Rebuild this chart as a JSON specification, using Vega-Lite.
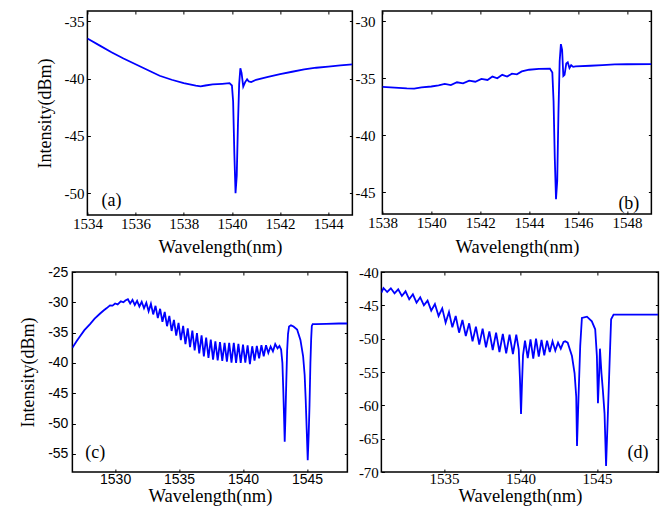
{
  "$schema": "https://vega.github.io/schema/vega-lite/v6.json",
  "padding": {"left": 18, "top": 9, "right": 0, "bottom": 0},
  "background": "white",
  "config": {
    "locale": {"number": {"decimal": ".", "thousands": "", "grouping": [3], "currency": ["", ""], "minus": "-"}},
    "view": {"stroke": "#000", "strokeWidth": 1.5},
    "axis": {"grid": false, "domain": false, "ticks": true, "tickColor": "#000", "tickSize": -3, "tickWidth": 1,
      "labelColor": "#000", "titleColor": "#000", "labelFont": "Liberation Serif", "labelFontSize": 15,
      "titleFont": "Liberation Serif", "titleFontSize": 18.5, "titleFontWeight": "normal", "labelFlush": false, "labelOverlap": false},
    "text": {"font": "Liberation Serif", "fontSize": 18, "color": "#000"}
  },
  "datasets": {
    "a": [
      {"wl":1534.0,"dbm":-36.5},{"wl":1534.5,"dbm":-37.1},{"wl":1535.0,"dbm":-37.7},{"wl":1535.5,"dbm":-38.25},{"wl":1536.0,"dbm":-38.75},
      {"wl":1536.5,"dbm":-39.25},{"wl":1537.0,"dbm":-39.75},{"wl":1537.5,"dbm":-40.1},{"wl":1538.0,"dbm":-40.4},{"wl":1538.5,"dbm":-40.62},
      {"wl":1538.7,"dbm":-40.68},{"wl":1538.9,"dbm":-40.6},{"wl":1539.2,"dbm":-40.5},{"wl":1539.6,"dbm":-40.45},{"wl":1539.9,"dbm":-40.4},
      {"wl":1540.0,"dbm":-40.6},{"wl":1540.05,"dbm":-42.0},{"wl":1540.1,"dbm":-46.5},{"wl":1540.15,"dbm":-50.0},{"wl":1540.2,"dbm":-48.5},
      {"wl":1540.25,"dbm":-44.0},{"wl":1540.3,"dbm":-40.5},{"wl":1540.35,"dbm":-39.1},{"wl":1540.4,"dbm":-39.5},{"wl":1540.47,"dbm":-40.7},
      {"wl":1540.55,"dbm":-40.3},{"wl":1540.63,"dbm":-40.05},{"wl":1540.7,"dbm":-40.25},{"wl":1540.8,"dbm":-40.3},{"wl":1541.0,"dbm":-40.1},
      {"wl":1541.5,"dbm":-39.85},{"wl":1542.0,"dbm":-39.6},{"wl":1542.5,"dbm":-39.4},{"wl":1543.0,"dbm":-39.2},{"wl":1543.5,"dbm":-39.05},
      {"wl":1544.0,"dbm":-38.95},{"wl":1544.5,"dbm":-38.85},{"wl":1545.0,"dbm":-38.75}
    ],
    "b": [
      {"wl":1538.0,"dbm":-35.75},{"wl":1538.5,"dbm":-35.82},{"wl":1539.0,"dbm":-35.88},{"wl":1539.3,"dbm":-35.9},{"wl":1539.6,"dbm":-35.8},
      {"wl":1540.0,"dbm":-35.72},{"wl":1540.3,"dbm":-35.62},{"wl":1540.55,"dbm":-35.5},{"wl":1540.8,"dbm":-35.6},{"wl":1541.05,"dbm":-35.35},
      {"wl":1541.3,"dbm":-35.45},{"wl":1541.55,"dbm":-35.2},{"wl":1541.8,"dbm":-35.3},{"wl":1542.05,"dbm":-35.05},{"wl":1542.3,"dbm":-35.15},
      {"wl":1542.5,"dbm":-34.85},{"wl":1542.7,"dbm":-35.0},{"wl":1542.9,"dbm":-34.7},{"wl":1543.1,"dbm":-34.85},{"wl":1543.3,"dbm":-34.6},
      {"wl":1543.5,"dbm":-34.65},{"wl":1543.7,"dbm":-34.4},{"wl":1544.0,"dbm":-34.25},{"wl":1544.4,"dbm":-34.18},{"wl":1544.85,"dbm":-34.15},
      {"wl":1544.95,"dbm":-34.5},{"wl":1545.0,"dbm":-37.0},{"wl":1545.05,"dbm":-42.0},{"wl":1545.1,"dbm":-45.6},{"wl":1545.15,"dbm":-44.0},
      {"wl":1545.2,"dbm":-38.0},{"wl":1545.25,"dbm":-33.5},{"wl":1545.3,"dbm":-32.0},{"wl":1545.35,"dbm":-32.5},{"wl":1545.4,"dbm":-34.8},
      {"wl":1545.45,"dbm":-34.7},{"wl":1545.52,"dbm":-33.7},{"wl":1545.58,"dbm":-33.6},{"wl":1545.65,"dbm":-34.1},{"wl":1545.72,"dbm":-33.85},
      {"wl":1545.8,"dbm":-34.0},{"wl":1545.9,"dbm":-33.95},{"wl":1546.5,"dbm":-33.9},{"wl":1547.0,"dbm":-33.85},{"wl":1547.5,"dbm":-33.78},
      {"wl":1548.0,"dbm":-33.77},{"wl":1549.0,"dbm":-33.75}
    ],
    "c": [
      {"wl":1526.66,"dbm":-37.5},{"wl":1527.0,"dbm":-36.4},{"wl":1527.26,"dbm":-35.6},{"wl":1527.6,"dbm":-34.6},{"wl":1528.04,"dbm":-33.6},
      {"wl":1528.4,"dbm":-32.7},{"wl":1528.83,"dbm":-31.85},{"wl":1529.1,"dbm":-31.35},{"wl":1529.35,"dbm":-30.95},{"wl":1529.6,"dbm":-30.5},
      {"wl":1529.8,"dbm":-30.55},{"wl":1530.0,"dbm":-30.2},{"wl":1530.2,"dbm":-30.35},{"wl":1530.45,"dbm":-29.85},{"wl":1530.65,"dbm":-30.0},
      {"wl":1530.8,"dbm":-29.7},
      {"wl":1531.0,"dbm":-29.5},{"wl":1531.18,"dbm":-30.2},{"wl":1531.36,"dbm":-29.6},{"wl":1531.54,"dbm":-30.43},{"wl":1531.72,"dbm":-29.76},
      {"wl":1531.9,"dbm":-30.69},{"wl":1532.08,"dbm":-29.92},{"wl":1532.26,"dbm":-30.98},{"wl":1532.44,"dbm":-30.09},{"wl":1532.62,"dbm":-31.49},
      {"wl":1532.8,"dbm":-30.26},{"wl":1532.98,"dbm":-32.0},{"wl":1533.16,"dbm":-30.58},{"wl":1533.34,"dbm":-32.61},{"wl":1533.52,"dbm":-31.07},
      {"wl":1533.7,"dbm":-33.21},{"wl":1533.88,"dbm":-31.6},{"wl":1534.06,"dbm":-33.94},{"wl":1534.24,"dbm":-32.24},{"wl":1534.42,"dbm":-34.73},
      {"wl":1534.6,"dbm":-32.9},{"wl":1534.78,"dbm":-35.48},{"wl":1534.96,"dbm":-33.39},{"wl":1535.14,"dbm":-36.24},{"wl":1535.32,"dbm":-33.88},
      {"wl":1535.5,"dbm":-36.89},{"wl":1535.68,"dbm":-34.29},{"wl":1535.86,"dbm":-37.4},{"wl":1536.04,"dbm":-34.69},{"wl":1536.22,"dbm":-37.92},
      {"wl":1536.4,"dbm":-35.07},{"wl":1536.58,"dbm":-38.42},{"wl":1536.76,"dbm":-35.44},{"wl":1536.94,"dbm":-38.92},{"wl":1537.12,"dbm":-35.81},
      {"wl":1537.3,"dbm":-39.19},{"wl":1537.48,"dbm":-36.17},{"wl":1537.66,"dbm":-39.46},{"wl":1537.84,"dbm":-36.46},{"wl":1538.02,"dbm":-39.58},
      {"wl":1538.2,"dbm":-36.58},{"wl":1538.38,"dbm":-39.67},{"wl":1538.56,"dbm":-36.69},{"wl":1538.74,"dbm":-39.8},{"wl":1538.92,"dbm":-36.7},
      {"wl":1539.1,"dbm":-39.94},{"wl":1539.28,"dbm":-36.7},{"wl":1539.46,"dbm":-40.0},{"wl":1539.64,"dbm":-36.84},{"wl":1539.82,"dbm":-40.0},
      {"wl":1540.0,"dbm":-37.0},{"wl":1540.18,"dbm":-39.95},{"wl":1540.36,"dbm":-37.12},{"wl":1540.54,"dbm":-40.2},{"wl":1540.72,"dbm":-37.25},
      {"wl":1540.9,"dbm":-39.64},{"wl":1541.08,"dbm":-37.21},{"wl":1541.26,"dbm":-39.26},{"wl":1541.44,"dbm":-37.08},{"wl":1541.62,"dbm":-38.9},
      {"wl":1541.8,"dbm":-37.09},{"wl":1541.98,"dbm":-38.35},{"wl":1542.16,"dbm":-37.3},{"wl":1542.34,"dbm":-38.1},{"wl":1542.52,"dbm":-36.9},
      {"wl":1542.7,"dbm":-37.6},
      {"wl":1542.85,"dbm":-37.2},{"wl":1542.98,"dbm":-37.8},{"wl":1543.08,"dbm":-40.0},{"wl":1543.15,"dbm":-44.5},{"wl":1543.21,"dbm":-49.0},
      {"wl":1543.26,"dbm":-53.0},{"wl":1543.31,"dbm":-49.5},{"wl":1543.38,"dbm":-43.5},{"wl":1543.45,"dbm":-38.0},{"wl":1543.52,"dbm":-35.2},
      {"wl":1543.6,"dbm":-34.0},{"wl":1543.75,"dbm":-33.8},{"wl":1543.95,"dbm":-34.0},{"wl":1544.23,"dbm":-34.5},{"wl":1544.49,"dbm":-36.2},
      {"wl":1544.7,"dbm":-38.9},{"wl":1544.82,"dbm":-42.0},{"wl":1544.9,"dbm":-46.0},{"wl":1544.98,"dbm":-51.0},{"wl":1545.06,"dbm":-56.05},
      {"wl":1545.14,"dbm":-51.5},{"wl":1545.2,"dbm":-47.0},{"wl":1545.27,"dbm":-40.0},{"wl":1545.33,"dbm":-36.0},{"wl":1545.38,"dbm":-33.9},
      {"wl":1545.45,"dbm":-33.6},{"wl":1545.7,"dbm":-33.6},{"wl":1546.5,"dbm":-33.55},{"wl":1547.5,"dbm":-33.5},{"wl":1548.16,"dbm":-33.5}
    ],
    "d": [
      {"wl":1530.91,"dbm":-43.1},{"wl":1531.05,"dbm":-42.4},{"wl":1531.29,"dbm":-43.0},{"wl":1531.53,"dbm":-42.45},{"wl":1531.77,"dbm":-43.2},
      {"wl":1532.01,"dbm":-42.6},{"wl":1532.25,"dbm":-43.6},{"wl":1532.49,"dbm":-42.9},{"wl":1532.73,"dbm":-44.1},{"wl":1532.97,"dbm":-43.35},
      {"wl":1533.21,"dbm":-44.6},{"wl":1533.45,"dbm":-43.8},{"wl":1533.69,"dbm":-45.0},{"wl":1533.93,"dbm":-44.3},{"wl":1534.17,"dbm":-45.8},
      {"wl":1534.41,"dbm":-44.8},{"wl":1534.65,"dbm":-46.6},{"wl":1534.89,"dbm":-45.45},{"wl":1535.11,"dbm":-47.6},{"wl":1535.33,"dbm":-46.0},
      {"wl":1535.55,"dbm":-48.3},{"wl":1535.77,"dbm":-46.6},{"wl":1535.99,"dbm":-49.1},{"wl":1536.21,"dbm":-47.2},{"wl":1536.43,"dbm":-49.6},
      {"wl":1536.65,"dbm":-47.7},{"wl":1536.87,"dbm":-50.4},{"wl":1537.09,"dbm":-48.2},{"wl":1537.31,"dbm":-50.9},{"wl":1537.53,"dbm":-48.5},
      {"wl":1537.75,"dbm":-51.3},{"wl":1537.97,"dbm":-48.9},{"wl":1538.19,"dbm":-51.7},{"wl":1538.41,"dbm":-49.1},{"wl":1538.63,"dbm":-52.0},
      {"wl":1538.85,"dbm":-49.3},{"wl":1539.07,"dbm":-52.2},{"wl":1539.29,"dbm":-49.4},{"wl":1539.51,"dbm":-52.3},{"wl":1539.73,"dbm":-49.4},
      {"wl":1539.89,"dbm":-51.6},{"wl":1539.97,"dbm":-56.0},{"wl":1540.04,"dbm":-61.3},{"wl":1540.1,"dbm":-57.0},{"wl":1540.17,"dbm":-52.5},
      {"wl":1540.3,"dbm":-50.3},{"wl":1540.48,"dbm":-52.9},{"wl":1540.66,"dbm":-50.1},{"wl":1540.84,"dbm":-53.0},{"wl":1541.02,"dbm":-50.0},
      {"wl":1541.2,"dbm":-52.7},{"wl":1541.38,"dbm":-50.2},{"wl":1541.56,"dbm":-52.5},{"wl":1541.74,"dbm":-50.3},{"wl":1541.92,"dbm":-52.0},
      {"wl":1542.1,"dbm":-50.4},{"wl":1542.28,"dbm":-51.8},{"wl":1542.46,"dbm":-50.6},{"wl":1542.64,"dbm":-51.5},{"wl":1542.82,"dbm":-50.5},
      {"wl":1542.93,"dbm":-50.4},{"wl":1543.09,"dbm":-50.6},{"wl":1543.37,"dbm":-52.6},{"wl":1543.54,"dbm":-55.15},{"wl":1543.65,"dbm":-58.7},
      {"wl":1543.7,"dbm":-66.1},{"wl":1543.8,"dbm":-58.7},{"wl":1543.91,"dbm":-51.1},{"wl":1544.02,"dbm":-46.9},{"wl":1544.35,"dbm":-46.7},
      {"wl":1544.67,"dbm":-47.4},{"wl":1544.89,"dbm":-48.6},{"wl":1545.0,"dbm":-52.6},{"wl":1545.07,"dbm":-59.7},{"wl":1545.15,"dbm":-55.2},
      {"wl":1545.2,"dbm":-51.5},{"wl":1545.3,"dbm":-55.2},{"wl":1545.39,"dbm":-57.7},{"wl":1545.5,"dbm":-61.2},{"wl":1545.6,"dbm":-69.1},
      {"wl":1545.72,"dbm":-61.2},{"wl":1545.83,"dbm":-53.6},{"wl":1545.93,"dbm":-47.1},{"wl":1546.09,"dbm":-46.4},{"wl":1547.28,"dbm":-46.4},
      {"wl":1549.0,"dbm":-46.4}
    ]
  },
  "vconcat": [
    {
      "hconcat": [
        {
          "width": 265, "height": 204,
          "layer": [
            {"data": {"name": "a"}, "mark": {"type": "line", "color": "#0000FF", "strokeWidth": 1.8, "clip": true},
              "encoding": {
                "x": {"field": "wl", "type": "quantitative", "scale": {"domain": [1534, 1545], "nice": false, "zero": false},
                  "axis": {"values": [1534,1536,1538,1540,1542,1544], "title": "Wavelength(nm)", "labelPadding": 4, "titlePadding": 6}},
                "y": {"field": "dbm", "type": "quantitative", "scale": {"domain": [-51.9, -34.1], "nice": false, "zero": false},
                  "axis": {"values": [-50,-45,-40,-35], "title": "Intensity(dBm)", "titleFontSize": 18, "labelPadding": 6.3, "titlePadding": 10}}
              }},
            {"data": {"values": [{"lab": "(a)", "wl": 1535.0, "dbm": -50.67}]}, "mark": {"type": "text"},
              "encoding": {
                "text": {"field": "lab"},
                "x": {"field": "wl", "type": "quantitative", "scale": {"domain": [1534, 1545], "nice": false, "zero": false},
                  "axis": {"orient": "top", "values": [1534,1536,1538,1540,1542,1544], "labels": false, "title": null}},
                "y": {"field": "dbm", "type": "quantitative", "scale": {"domain": [-51.9, -34.1], "nice": false, "zero": false},
                  "axis": {"orient": "right", "values": [-50,-45,-40,-35], "labels": false, "title": null}}
              }}
          ],
          "resolve": {"axis": {"x": "independent", "y": "independent"}}
        },
        {
          "width": 269, "height": 203,
          "layer": [
            {"data": {"name": "b"}, "mark": {"type": "line", "color": "#0000FF", "strokeWidth": 1.8, "clip": true},
              "encoding": {
                "x": {"field": "wl", "type": "quantitative", "scale": {"domain": [1538, 1549], "nice": false, "zero": false},
                  "axis": {"values": [1538,1540,1542,1544,1546,1548], "title": "Wavelength(nm)", "labelPadding": 4, "titlePadding": 7}},
                "y": {"field": "dbm", "type": "quantitative", "scale": {"domain": [-46.9, -29.1], "nice": false, "zero": false},
                  "axis": {"values": [-45,-40,-35,-30], "title": null, "labelPadding": 10.4}}
              }},
            {"data": {"values": [{"lab": "(b)", "wl": 1548.08, "dbm": -46.0}]}, "mark": {"type": "text"},
              "encoding": {
                "text": {"field": "lab"},
                "x": {"field": "wl", "type": "quantitative", "scale": {"domain": [1538, 1549], "nice": false, "zero": false},
                  "axis": {"orient": "top", "values": [1538,1540,1542,1544,1546,1548], "labels": false, "title": null}},
                "y": {"field": "dbm", "type": "quantitative", "scale": {"domain": [-46.9, -29.1], "nice": false, "zero": false},
                  "axis": {"orient": "right", "values": [-45,-40,-35,-30], "labels": false, "title": null}}
              }}
          ],
          "resolve": {"axis": {"x": "independent", "y": "independent"}}
        }
      ],
      "spacing": 30,
      "bounds": "flush"
    },
    {
      "hconcat": [
        {
          "width": 275, "height": 200,
          "layer": [
            {"data": {"name": "c"}, "mark": {"type": "line", "color": "#0000FF", "strokeWidth": 1.8, "clip": true},
              "encoding": {
                "x": {"field": "wl", "type": "quantitative", "scale": {"domain": [1526.66, 1548.16], "nice": false, "zero": false},
                  "axis": {"values": [1530,1535,1540,1545], "title": "Wavelength(nm)", "labelFont": "Liberation Sans", "labelFontSize": 14, "labelPadding": 3.5, "titlePadding": 0}},
                "y": {"field": "dbm", "type": "quantitative", "scale": {"domain": [-58, -25], "nice": false, "zero": false},
                  "axis": {"values": [-55,-50,-45,-40,-35,-30,-25], "title": "Intensity(dBm)", "titleFontSize": 18, "labelFont": "Liberation Sans", "labelFontSize": 14, "labelPadding": 7.5, "titlePadding": 10}}
              }},
            {"data": {"values": [{"lab": "(c)", "wl": 1528.44, "dbm": -54.9}]}, "mark": {"type": "text"},
              "encoding": {
                "text": {"field": "lab"},
                "x": {"field": "wl", "type": "quantitative", "scale": {"domain": [1526.66, 1548.16], "nice": false, "zero": false},
                  "axis": {"orient": "top", "values": [1530,1535,1540,1545], "labels": false, "title": null}},
                "y": {"field": "dbm", "type": "quantitative", "scale": {"domain": [-58, -25], "nice": false, "zero": false},
                  "axis": {"orient": "right", "values": [-55,-50,-45,-40,-35,-30,-25], "labels": false, "title": null}}
              }}
          ],
          "resolve": {"axis": {"x": "independent", "y": "independent"}}
        },
        {
          "width": 277, "height": 200,
          "layer": [
            {"data": {"name": "d"}, "mark": {"type": "line", "color": "#0000FF", "strokeWidth": 1.8, "clip": true},
              "encoding": {
                "x": {"field": "wl", "type": "quantitative", "scale": {"domain": [1530.91, 1549.02], "nice": false, "zero": false},
                  "axis": {"values": [1535,1540,1545], "title": "Wavelength(nm)", "labelPadding": 2.6, "titlePadding": 0}},
                "y": {"field": "dbm", "type": "quantitative", "scale": {"domain": [-70, -40], "nice": false, "zero": false},
                  "axis": {"values": [-70,-65,-60,-55,-50,-45,-40], "title": null, "labelPadding": 6}}
              }},
            {"data": {"values": [{"lab": "(d)", "wl": 1547.69, "dbm": -67.2}]}, "mark": {"type": "text"},
              "encoding": {
                "text": {"field": "lab"},
                "x": {"field": "wl", "type": "quantitative", "scale": {"domain": [1530.91, 1549.02], "nice": false, "zero": false},
                  "axis": {"orient": "top", "values": [1535,1540,1545], "labels": false, "title": null}},
                "y": {"field": "dbm", "type": "quantitative", "scale": {"domain": [-70, -40], "nice": false, "zero": false},
                  "axis": {"orient": "right", "values": [-70,-65,-60,-55,-50,-45,-40], "labels": false, "title": " ", "titleFontSize": 8, "titlePadding": 0}}
              }}
          ],
          "resolve": {"axis": {"x": "independent", "y": "independent"}}
        }
      ],
      "spacing": 34,
      "bounds": "flush"
    }
  ],
  "spacing": 7,
  "center": true
}
